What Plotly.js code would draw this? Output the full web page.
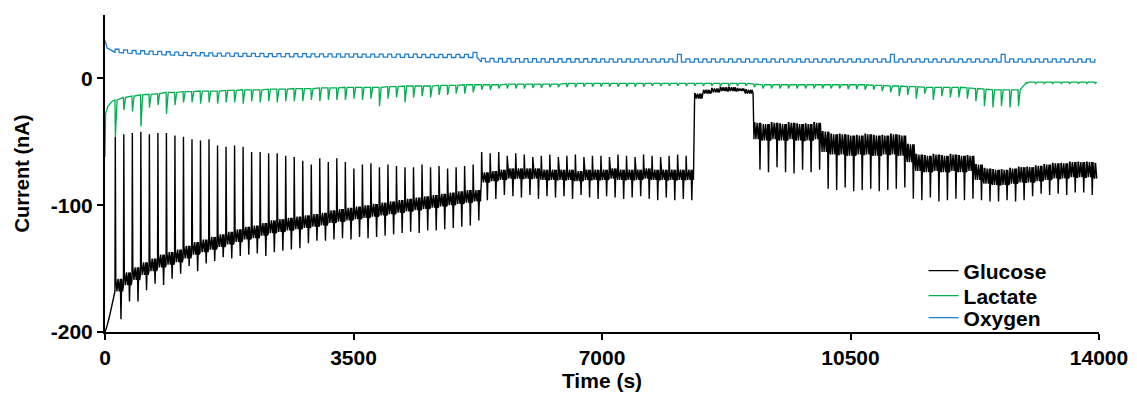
<!DOCTYPE html>
<html>
<head>
<meta charset="utf-8">
<script src="https://cdn.plot.ly/plotly-3.0.1.min.js"></script>
<style>
  html, body { margin: 0; padding: 0; background: #fff; }
  #chart { width: 1137px; height: 396px; }
</style>
</head>
<body>
<div id="chart"></div>
<script>
// ---------------- DATA ----------------
// Sampling/injection cycle start times (s), one per cycle k = 0..115
const cycleTime = [
  140,260,380,500,620,740,860,980,1100,1220,
  1340,1460,1580,1700,1820,1940,2060,2180,2300,2420,
  2540,2660,2780,2900,3020,3140,3260,3380,3500,3620,
  3740,3860,3980,4100,4220,4340,4460,4580,4700,4820,
  4940,5060,5180,5300,5420,5540,5660,5780,5900,6020,
  6140,6260,6380,6500,6620,6740,6860,6980,7100,7220,
  7340,7460,7580,7700,7820,7940,8060,8180,8300,8420,
  8540,8660,8780,8900,9020,9140,9260,9380,9500,9620,
  9740,9860,9980,10100,10220,10340,10460,10580,10700,10820,
  10940,11060,11180,11300,11420,11540,11660,11780,11900,12020,
  12140,12260,12380,12500,12620,12740,12860,12980,13100,13220,
  13340,13460,13580,13700,13820,13940
];
const traceEndTime = 13970;

// Glucose (nA)
const glucoseStartTime = [0, 30, 70, 110];
const glucoseStartCurrent = [-200, -195, -186, -175];
const glucoseLow = [
  -168,-163,-159,-155,-152,-149,-147,-145,-142,-139,
  -137,-135,-133,-131,-129,-127,-126,-124,-122,-121,
  -120,-119,-118,-117,-116,-114,-113,-112,-111,-110,
  -109,-108,-107,-106,-105,-104,-103,-102,-101,-100,
  -99,-98,-97,-82,-81,-80,-79,-79,-79,-79,
  -80,-80,-80,-80,-81,-80,-80,-80,-79,-80,
  -80,-80,-79,-80,-80,-80,-80,-80,-16,-12,
  -11,-10,-10,-10,-12,-48,-49,-48,-49,-48,
  -49,-49,-48,-58,-60,-60,-61,-60,-60,-61,
  -60,-60,-61,-66,-73,-74,-73,-74,-73,-74,
  -73,-80,-83,-84,-84,-83,-82,-82,-81,-80,
  -79,-79,-78,-78,-78,-79
];
const glucoseHigh = [
  -158,-153,-149,-145,-142,-139,-137,-135,-132,-129,
  -127,-125,-123,-121,-119,-117,-116,-114,-112,-111,
  -110,-109,-108,-107,-106,-104,-103,-102,-101,-100,
  -99,-98,-97,-96,-95,-94,-93,-92,-91,-90,
  -89,-88,-88,-74,-73,-72,-71,-71,-71,-71,
  -72,-72,-72,-72,-73,-72,-72,-72,-71,-72,
  -72,-72,-71,-72,-72,-72,-72,-72,-12,-9,
  -8,-7,-7,-8,-9,-35,-36,-35,-36,-35,
  -36,-36,-35,-42,-44,-44,-45,-45,-44,-45,
  -45,-44,-45,-52,-60,-61,-60,-61,-60,-61,
  -61,-68,-71,-72,-72,-71,-70,-70,-69,-68,
  -67,-67,-66,-66,-66,-67
];
const glucosePeak = [
  -46,-44,-43,-42,-44,-43,-43,-45,-46,-48,
  -49,-48,-53,-54,-53,-54,-58,-58,-59,-59,
  -61,-62,-65,-68,-63,-66,-63,-66,-71,-68,
  -67,-70,-68,-69,-70,-70,-68,-70,-69,-71,
  -70,-69,-68,-58,-59,-58,-61,-59,-60,-62,
  -61,-60,-62,-61,-60,-62,-61,-61,-62,-60,
  -61,-62,-60,-61,-62,-61,-60,-61,-12,-9,
  -8,-7,-7,-8,-9,-35,-36,-35,-36,-35,
  -36,-36,-35,-42,-44,-44,-45,-45,-44,-45,
  -45,-44,-45,-52,-60,-61,-60,-61,-60,-61,
  -61,-68,-71,-72,-72,-71,-70,-70,-69,-68,
  -67,-67,-66,-66,-66,-67
];
const glucoseDip = [
  -190,-176,-176,-167,-162,-163,-158,-154,-148,-152,
  -146,-144,-141,-142,-140,-139,-138,-140,-137,-136,
  -135,-134,-130,-128,-128,-127,-126,-127,-125,-126,
  -125,-124,-123,-122,-121,-122,-120,-120,-119,-118,
  -117,-116,-112,-96,-95,-92,-93,-94,-92,-95,
  -93,-94,-93,-95,-92,-94,-95,-93,-94,-95,
  -94,-93,-95,-96,-94,-96,-95,-96,-16,-12,
  -11,-10,-10,-10,-12,-72,-74,-70,-74,-75,
  -72,-74,-72,-87,-88,-86,-89,-88,-87,-89,
  -88,-87,-86,-95,-96,-94,-97,-96,-95,-96,
  -95,-96,-97,-97,-96,-97,-96,-93,-91,-92,
  -91,-92,-90,-90,-92,-91
];

// Lactate (nA)
const lactateStartTime = [0, 8, 40, 100];
const lactateStartCurrent = [-62, -28, -22, -18];
const lactateBase = [
  -17,-15,-14,-13,-12.5,-12,-11,-11,-10.5,-10.5,
  -10,-10,-10,-9.5,-9.5,-9,-9,-9,-8.5,-8.5,
  -8.5,-8,-8,-8,-7.5,-7.5,-7.5,-7,-7,-7,
  -7,-7,-6.5,-6.5,-6,-6,-6,-6,-5.5,-5.5,
  -5.5,-5,-5,-5,-5,-5,-4.5,-4.5,-4.5,-4.5,
  -4.5,-4.5,-4.5,-4,-4,-4,-4,-4,-4,-4,
  -4,-4,-4,-4,-4,-4,-4,-4,-4,-4,
  -4,-4,-4,-4,-4,-4.5,-5,-5,-5,-5,
  -5,-5,-5,-5,-5,-5,-5,-5,-5,-5.5,
  -5.5,-6,-6,-6.5,-6.5,-7,-7,-7,-7,-7,
  -7.5,-8,-8.5,-9,-9,-9,-9,-3,-3,-3,
  -3,-3,-3,-3,-3,-3
];
const lactateDip = [
  -46,-25,-26,-38,-23,-21,-28,-21,-19,-19,
  -20,-19,-20,-19,-19,-20,-18,-19,-18,-19,
  -18,-18,-18,-17,-18,-17,-17,-17,-16,-17,
  -16,-22,-16,-15,-19,-15,-14,-15,-13,-13,
  -12,-12,-11,-9,-9,-8,-8,-8,-8,-7.5,
  -7.5,-7,-7,-7,-7,-6.5,-6.5,-6.5,-6.5,-6.5,
  -6.5,-6.5,-6.5,-6,-6,-6,-6,-6,-6,-6,
  -6,-6,-6,-6,-6,-7,-8,-8,-8,-8,
  -8,-8,-8,-8,-8,-8,-8.5,-8.5,-9,-9,
  -10,-11,-14,-13,-16,-12,-17,-14,-15,-15,
  -16,-18,-22,-23,-22,-23,-22,-4,-4,-4,
  -4,-4,-4,-4,-4,-4
];

// Oxygen (nA)
const oxygenStartTime = [0, 10, 30, 80];
const oxygenStartCurrent = [30, 28, 24, 22.5];
const oxygenHigh = [
  23,22.5,22,21.8,21.5,21.3,21,20.8,20.6,20.4,
  20.3,20.2,20,20,19.9,19.8,19.8,19.7,19.6,19.6,
  19.5,19.5,19.5,19.4,19.4,19.4,19.3,19.3,19.3,19.2,
  19.2,19.2,19.2,19.1,19.1,19.1,19,19,19,19,
  19,19,20.5,15.8,15.8,15.7,15.7,15.6,15.6,15.6,
  15.6,15.5,15.5,15.5,15.5,15.5,15.5,15.4,15.4,15.4,
  15.4,15.4,15.4,15.4,15.4,15.4,19,15.4,15.4,15.4,
  15.4,15.4,15.4,15.4,15.4,15.4,15.4,15.4,15.4,15.4,
  15.4,15.4,15.4,15.4,15.4,15.4,15.4,15.4,15.4,15.4,
  15.4,19,15.4,15.4,15.4,15.4,15.4,15.4,15.4,15.4,
  15.4,15.4,15.4,15.4,19,15.4,15.4,15.4,15.4,15.4,
  15.4,15.4,15.4,15.4,15.4,15.4
];
const oxygenLow = [
  20.5,20,19.6,19.3,19,18.8,18.5,18.3,18.1,17.9,
  17.8,17.7,17.5,17.5,17.4,17.3,17.3,17.2,17.1,17.1,
  17,17,17,16.9,16.9,16.9,16.8,16.8,16.8,16.7,
  16.7,16.7,16.7,16.6,16.6,16.6,16.5,16.5,16.5,16.5,
  16.5,16.5,16.5,13,13,12.9,12.9,12.8,12.8,12.8,
  12.8,12.8,12.8,12.8,12.8,12.8,12.8,12.8,12.8,12.8,
  12.8,12.8,12.8,12.8,12.8,12.8,12.8,12.8,12.8,12.8,
  12.8,12.8,12.8,12.8,12.8,12.8,12.8,12.8,12.8,12.8,
  12.8,12.8,12.8,12.8,12.8,12.8,12.8,12.8,12.8,12.8,
  12.8,12.8,12.8,12.8,12.8,12.8,12.8,12.8,12.8,12.8,
  12.8,12.8,12.8,12.8,12.8,12.8,12.8,12.8,12.8,12.8,
  12.8,12.8,12.8,12.8,12.8,12.8
];

const seriesNames = ['Glucose', 'Lactate', 'Oxygen'];
const xTickValues = [0, 3500, 7000, 10500, 14000];
const xTickLabels = ['0', '3500', '7000', '10500', '14000'];
const yTickValues = [-200, -100, 0];
const yTickLabels = ['-200', '-100', '0'];

// ---------------- shape of one cycle (seconds after cycle start) ----------------
const glucoseShape = [
  [0,'low'],[5,'peak'],[12,'high'],[28,'low'],[44,'high'],[60,'low'],
  [76,'high'],[85,'dip'],[95,'high'],[108,'low']
];
const lactateShape = [[0,'base'],[6,'dip'],[30,'base']];
const oxygenShape = [[0,'low'],[4,'high'],[56,'high'],[60,'low']];

function build(startT, startV, shape, lookup) {
  const x = startT.slice(), y = startV.slice();
  cycleTime.forEach((t, k) => {
    shape.forEach(([off, role]) => {
      const tt = t + off;
      if (tt <= traceEndTime) { x.push(tt); y.push(lookup[role][k]); }
    });
  });
  return {x, y};
}

const glu = build(glucoseStartTime, glucoseStartCurrent, glucoseShape,
  {low: glucoseLow, high: glucoseHigh, peak: glucosePeak, dip: glucoseDip});
const lac = build(lactateStartTime, lactateStartCurrent, lactateShape,
  {base: lactateBase, dip: lactateDip});
const oxy = build(oxygenStartTime, oxygenStartCurrent, oxygenShape,
  {low: oxygenLow, high: oxygenHigh});

const font = {family: 'Liberation Sans, Arial, sans-serif', color: '#000', weight: 'bold'};
const legendBase = {x: 0.8235, xanchor: 'left', yanchor: 'middle',
  font: Object.assign({}, font, {size: 21}), bgcolor: 'rgba(0,0,0,0)', itemwidth: 30};

const traces = [
  {x: glu.x, y: glu.y, name: seriesNames[0], type: 'scatter', mode: 'lines',
   legend: 'legend', line: {color: '#000000', width: 1.4}},
  {x: lac.x, y: lac.y, name: seriesNames[1], type: 'scatter', mode: 'lines',
   legend: 'legend2', line: {color: '#00B050', width: 1.3}},
  {x: oxy.x, y: oxy.y, name: seriesNames[2], type: 'scatter', mode: 'lines',
   legend: 'legend3', line: {color: '#1E7DD0', width: 1.3}}
];

const layout = {
  width: 1137, height: 396,
  margin: {l: 105, r: 38, t: 15, b: 64, pad: 0},
  paper_bgcolor: '#fff', plot_bgcolor: '#fff',
  showlegend: true,
  legend: Object.assign({}, legendBase, {y: 0.1924}),
  legend2: Object.assign({}, legendBase, {y: 0.1136}),
  legend3: Object.assign({}, legendBase, {y: 0.0442}),
  xaxis: {
    range: [0, 14000], showgrid: false, zeroline: false,
    showline: true, linecolor: '#000', linewidth: 2,
    ticks: 'outside', ticklen: 6, tickwidth: 2, tickcolor: '#000',
    tickvals: xTickValues, ticktext: xTickLabels,
    tickfont: Object.assign({}, font, {size: 21}),
    title: {text: 'Time (s)', font: Object.assign({}, font, {size: 21}), standoff: 0},
    automargin: false, fixedrange: true
  },
  yaxis: {
    range: [-200, 50], showgrid: false, zeroline: false,
    showline: true, linecolor: '#000', linewidth: 2,
    ticks: 'outside', ticklen: 6, tickwidth: 2, tickcolor: '#000',
    tickvals: yTickValues, ticktext: yTickLabels,
    tickfont: Object.assign({}, font, {size: 21}),
    title: {text: 'Current (nA)', font: Object.assign({}, font, {size: 20}), standoff: 16},
    automargin: false, fixedrange: true
  }
};

Plotly.newPlot('chart', traces, layout, {displayModeBar: false, staticPlot: true});
</script>
</body>
</html>
